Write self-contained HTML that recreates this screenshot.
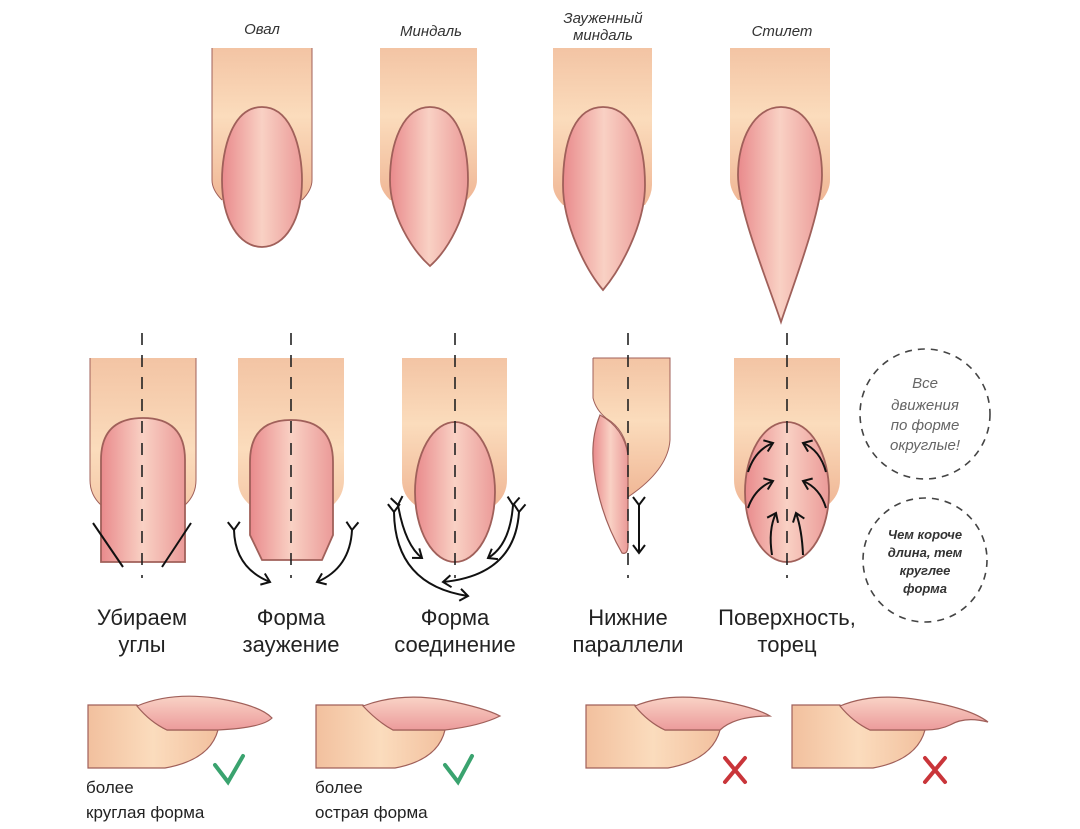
<!DOCTYPE html>
<html><head><meta charset="utf-8"><style>
body{margin:0;background:#fff;}
svg{display:block;font-family:"Liberation Sans","DejaVu Sans",sans-serif;}
</style></head><body>
<svg width="1080" height="829" viewBox="0 0 1080 829" xmlns="http://www.w3.org/2000/svg">
<defs>
<linearGradient id="sk" x1="0" y1="0" x2="0" y2="1"><stop offset="0" stop-color="#f3c4a4"/><stop offset="0.45" stop-color="#fbdcbc"/><stop offset="1" stop-color="#f0b796"/></linearGradient>
<linearGradient id="skh" x1="0" y1="0" x2="1" y2="0"><stop offset="0" stop-color="#f2c09e"/><stop offset="0.5" stop-color="#fbdcbd"/><stop offset="1" stop-color="#f2c09e"/></linearGradient>
<linearGradient id="nl" x1="0" y1="0" x2="1" y2="0"><stop offset="0" stop-color="#e98a8c"/><stop offset="0.5" stop-color="#f9d1c4"/><stop offset="1" stop-color="#eb9a98"/></linearGradient>
<linearGradient id="nlv" x1="0" y1="0" x2="0" y2="1"><stop offset="0" stop-color="#f9d3c6"/><stop offset="1" stop-color="#ec9b9b"/></linearGradient>
<marker id="ah" markerWidth="14" markerHeight="14" refX="10" refY="7" orient="auto" markerUnits="userSpaceOnUse"><path d="M2,1 L10,7 L2,13" fill="none" stroke="#111" stroke-width="2"/></marker>
</defs>
<g stroke="#a0605a" stroke-width="1.8">
<path d="M212,48 H312 V180 Q312,190 302,200 L222,200 Q212,190 212,180 Z" fill="url(#sk)" stroke="none"/>
<path d="M212,48 V180 Q212,190 222,200 M312,48 V180 Q312,190 302,200" fill="none" stroke-width="1"/>
<path d="M262,107 C292,107 302,150 302,180 C302,220 285,247 262,247 C239,247 222,220 222,180 C222,150 232,107 262,107 Z" fill="url(#nl)"/>
<path d="M380,48 H477 V180 Q477,190 467,200 L390,200 Q380,190 380,180 Z" fill="url(#sk)" stroke="none"/>
<path d="M430,107 C458,107 468,145 468,180 C468,215 448,250 430,266 C412,250 390,215 390,180 C390,145 402,107 430,107 Z" fill="url(#nl)"/>
<path d="M553,48 H652 V185 Q652,195 645,205 L563,205 Q553,195 553,185 Z" fill="url(#sk)" stroke="none"/>
<path d="M603,107 C633,107 645,145 645,185 C645,225 620,270 603,290 C586,270 563,225 563,185 C563,145 573,107 603,107 Z" fill="url(#nl)"/>
<path d="M730,48 H830 V180 Q830,190 822,200 L738,200 Q730,190 730,180 Z" fill="url(#sk)" stroke="none"/>
<path d="M781,107 C808,107 822,140 822,175 C822,210 795,280 781,322 C767,280 738,210 738,175 C738,140 754,107 781,107 Z" fill="url(#nl)"/>
</g>
<g font-style="italic" font-size="15" fill="#333" text-anchor="middle">
<text x="262" y="34">Овал</text><text x="431" y="36">Миндаль</text>
<text x="603" y="23">Зауженный</text><text x="603" y="40">миндаль</text><text x="782" y="36">Стилет</text>
</g>
<g stroke="#a0605a" stroke-width="1.8">
<path d="M90,358 H196 V480 Q196,495 185,505 V562 H101 V505 Q90,495 90,480 Z" fill="url(#sk)" stroke="none"/>
<path d="M101,562 V460 Q101,418 143,418 Q185,418 185,460 V562 Z" fill="url(#nl)"/>
<path d="M90,358 V480 Q90,495 101,505 M196,358 V480 Q196,495 185,505" fill="none" stroke-width="1"/>
<path d="M238,358 H344 V480 Q344,495 333,505 V535 L322,560 H262 L250,535 V505 Q238,495 238,480 Z" fill="url(#sk)" stroke="none"/>
<path d="M250,535 V462 Q250,420 291,420 Q333,420 333,462 V535 L322,560 H262 Z" fill="url(#nl)"/>
<path d="M402,358 H507 V480 Q507,495 495,505 L415,505 Q402,495 402,480 Z" fill="url(#sk)" stroke="none"/>
<ellipse cx="455" cy="492" rx="40" ry="70" fill="url(#nl)"/>
<path d="M593,358 H670 V440 Q668,470 628,497 V455 Q624,428 606,418 Q596,410 593,398 Z" fill="url(#sk)" stroke="none"/>
<path d="M593,358 H670 V440 Q668,470 628,497 M593,358 V398 Q596,410 606,418 Q626,430 628,455" fill="none" stroke-width="1"/>
<path d="M600,415 Q590,440 594,470 Q600,515 622,553 Q628,555 628,545 V455 Q624,428 600,415 Z" fill="url(#nl)" stroke-width="1.2"/>
<path d="M734,358 H840 V480 Q840,495 828,505 L745,505 Q734,495 734,480 Z" fill="url(#sk)" stroke="none"/>
<ellipse cx="787" cy="492" rx="42" ry="70" fill="url(#nl)"/>
</g>
<g stroke="#222" stroke-width="1.6" stroke-dasharray="12,10" fill="none">
<line x1="142" y1="333" x2="142" y2="578"/><line x1="291" y1="333" x2="291" y2="578"/>
<line x1="455" y1="333" x2="455" y2="578"/><line x1="628" y1="333" x2="628" y2="578"/>
<line x1="787" y1="333" x2="787" y2="578"/>
</g>
<g stroke="#111" stroke-width="2" fill="none">
<line x1="93" y1="523" x2="123" y2="567"/><line x1="191" y1="523" x2="162" y2="567"/>
<path d="M234,530 Q235,568 270,582" marker-start="url(#ah)" marker-end="url(#ah)"/>
<path d="M352,530 Q350,568 317,582" marker-start="url(#ah)" marker-end="url(#ah)"/>
<path d="M398,505 Q405,545 422,558" marker-start="url(#ah)" marker-end="url(#ah)"/>
<path d="M513,505 Q510,545 488,558" marker-start="url(#ah)" marker-end="url(#ah)"/>
<path d="M394,512 Q395,585 468,596" marker-start="url(#ah)" marker-end="url(#ah)"/>
<path d="M519,512 Q515,575 443,582" marker-start="url(#ah)" marker-end="url(#ah)"/>
<line x1="639" y1="505" x2="639" y2="553" marker-start="url(#ah)" marker-end="url(#ah)"/>
<path d="M748,472 Q755,450 773,443" marker-end="url(#ah)"/><path d="M826,472 Q820,450 803,443" marker-end="url(#ah)"/>
<path d="M748,508 Q755,488 773,481" marker-end="url(#ah)"/><path d="M826,508 Q820,488 803,481" marker-end="url(#ah)"/>
<path d="M772,555 Q768,530 776,513" marker-end="url(#ah)"/><path d="M803,555 Q802,530 796,513" marker-end="url(#ah)"/>
</g>
<g stroke="#444" stroke-width="1.6" stroke-dasharray="7,6" fill="none">
<circle cx="925" cy="414" r="65"/><circle cx="925" cy="560" r="62"/>
</g>
<g font-style="italic" font-size="15" fill="#666" text-anchor="middle">
<text x="925" y="388">Все</text><text x="925" y="410">движения</text><text x="925" y="430">по форме</text><text x="925" y="450">округлые!</text>
</g>
<g font-style="italic" font-weight="bold" font-size="13" fill="#333" text-anchor="middle">
<text x="925" y="539">Чем короче</text><text x="925" y="557">длина, тем</text><text x="925" y="575">круглее</text><text x="925" y="593">форма</text>
</g>
<g font-size="22" fill="#222" text-anchor="middle">
<text x="142" y="625">Убираем</text><text x="142" y="652">углы</text>
<text x="291" y="625">Форма</text><text x="291" y="652">заужение</text>
<text x="455" y="625">Форма</text><text x="455" y="652">соединение</text>
<text x="628" y="625">Нижние</text><text x="628" y="652">параллели</text>
<text x="787" y="625">Поверхность,</text><text x="787" y="652">торец</text>
</g>
<g stroke="#a0605a" stroke-width="1.2">
<path d="M88,705 H137 Q150,722 167,730 H218 Q210,760 165,768 H88 Z" fill="url(#skh)"/>
<path d="M137,706 Q170,692 215,698 Q260,705 272,718 Q262,728 218,730 H167 Q150,722 137,706 Z" fill="url(#nlv)"/>
<path d="M316,705 H363 Q378,722 393,730 H445 Q438,760 395,768 H316 Z" fill="url(#skh)"/>
<path d="M363,706 Q400,692 445,700 Q485,708 500,716 Q480,726 445,730 H393 Q378,722 363,706 Z" fill="url(#nlv)"/>
<path d="M586,705 H635 Q648,722 665,730 H720 Q712,760 668,768 H586 Z" fill="url(#skh)"/>
<path d="M635,706 Q668,692 715,700 Q755,707 770,716 Q735,716 720,730 H665 Q648,722 635,706 Z" fill="url(#nlv)"/>
<path d="M792,705 H840 Q853,722 870,730 H925 Q917,760 873,768 H792 Z" fill="url(#skh)"/>
<path d="M840,706 Q873,692 920,700 Q970,708 988,722 Q965,716 950,725 Q940,730 925,730 H870 Q853,722 840,706 Z" fill="url(#nlv)"/>
</g>
<g stroke-width="4" fill="none" stroke-linecap="round">
<path d="M215,765 L228,782 L243,756" stroke="#3aa36f"/>
<path d="M445,765 L458,782 L472,756" stroke="#3aa36f"/>
<path d="M725,758 L745,782 M745,758 L725,782" stroke="#c9353a"/>
<path d="M925,758 L945,782 M945,758 L925,782" stroke="#c9353a"/>
</g>
<g font-size="17" fill="#222">
<text x="86" y="793">более</text><text x="86" y="818">круглая форма</text>
<text x="315" y="793">более</text><text x="315" y="818">острая форма</text>
</g>
</svg>
</body></html>
